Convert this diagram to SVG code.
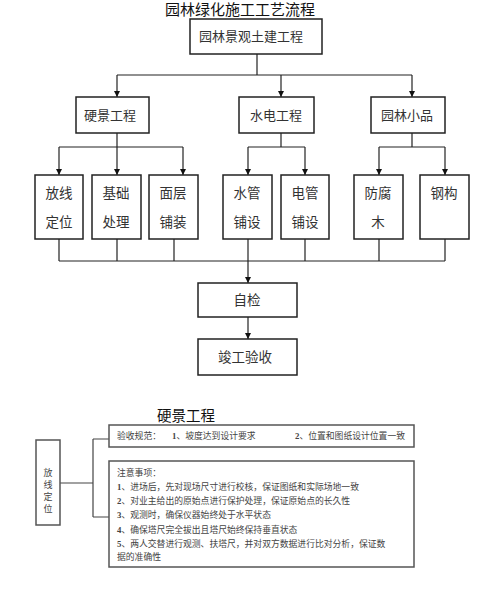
<svg xmlns="http://www.w3.org/2000/svg" width="500" height="600" viewBox="0 0 500 600">
<style>
text{font-family:"Liberation Serif","Noto Sans CJK SC",serif;}
.box{fill:#fff;stroke:#222;stroke-width:1.5;}
.sbox{fill:#fff;stroke:#555;stroke-width:1.5;}
.t{font-size:13.5px;fill:#333;text-anchor:middle;}
.title{font-size:15px;fill:#111;text-anchor:middle;}
.s{font-size:8.8px;fill:#444;}
.v{font-size:9px;fill:#444;text-anchor:middle;}
.ln{fill:none;stroke:#222;stroke-width:1.2;}
.sln{fill:none;stroke:#444;stroke-width:1.2;}
.a{marker-end:url(#arr);}
</style>
<defs>
<marker id="arr" viewBox="0 0 10 10" refX="10" refY="5" markerWidth="6" markerHeight="6" markerUnits="userSpaceOnUse" orient="auto">
<path d="M0,0 L10,5 L0,10 z" fill="#111"/>
</marker>
</defs>
<rect width="500" height="600" fill="#fff"/>
<text class="title" x="240" y="15">园林绿化施工工艺流程</text>

<g id="connectors">
<path class="ln" d="M257,54 V75 M117,75 H412"/>
<path class="ln a" d="M117,75 V97"/>
<path class="ln a" d="M281,75 V97"/>
<path class="ln a" d="M412,75 V97"/>
<path class="ln" d="M117,133 V147 M59,147 H183"/>
<path class="ln a" d="M59,147 V175"/>
<path class="ln a" d="M117,147 V175"/>
<path class="ln a" d="M183,147 V175"/>
<path class="ln" d="M281,133 V147 M248,147 H305"/>
<path class="ln a" d="M248,147 V175"/>
<path class="ln a" d="M305,147 V175"/>
<path class="ln" d="M412,133 V147 M379,147 H445"/>
<path class="ln a" d="M379,147 V175"/>
<path class="ln a" d="M445,147 V175"/>
<path class="ln" d="M59,239 V261 M117,239 V261 M174,239 V261 M305,239 V261 M379,239 V261 M445,239 V261 M59,261 H445"/>
<path class="ln a" d="M248,239 V283"/>
<path class="ln a" d="M248,317 V339"/>
<path class="sln" d="M60,483 H93 M93,439 V517 M93,439 H109 M93,517 H109"/>
</g>

<g id="n-root"><rect class="box" x="190" y="19" width="132" height="35"/><text class="t" x="251" y="41" style="font-size:13px">园林景观土建工程</text></g>
<g id="n-yingjing"><rect class="box" x="76" y="97" width="73" height="36"/><text class="t" x="110" y="120" style="font-size:13px">硬景工程</text></g>
<g id="n-shuidian"><rect class="box" x="239" y="97" width="75" height="36"/><text class="t" x="276" y="120" style="font-size:13px">水电工程</text></g>
<g id="n-xiaopin"><rect class="box" x="371" y="97" width="74" height="36"/><text class="t" x="407" y="120" style="font-size:13px">园林小品</text></g>

<g id="n-fangxian"><rect class="box" x="35" y="175" width="48" height="64"/><text class="t" x="59" y="198">放线</text><text class="t" x="59" y="227">定位</text></g>
<g id="n-jichu"><rect class="box" x="92" y="175" width="49" height="64"/><text class="t" x="116" y="198">基础</text><text class="t" x="116" y="227">处理</text></g>
<g id="n-mianceng"><rect class="box" x="149" y="175" width="49" height="64"/><text class="t" x="173" y="198">面层</text><text class="t" x="173" y="227">铺装</text></g>
<g id="n-shuiguan"><rect class="box" x="223" y="175" width="49" height="64"/><text class="t" x="247" y="198">水管</text><text class="t" x="247" y="227">铺设</text></g>
<g id="n-dianguan"><rect class="box" x="281" y="175" width="48" height="64"/><text class="t" x="305" y="198">电管</text><text class="t" x="305" y="227">铺设</text></g>
<g id="n-fangfu"><rect class="box" x="354" y="175" width="49" height="64"/><text class="t" x="378" y="198">防腐</text><text class="t" x="378" y="227">木</text></g>
<g id="n-ganggou"><rect class="box" x="420" y="175" width="49" height="64"/><text class="t" x="444" y="198">钢构</text></g>

<g id="n-zijian"><rect class="box" x="198" y="283" width="99" height="34"/><text class="t" x="247" y="305">自检</text></g>
<g id="n-jungong"><rect class="box" x="198" y="339" width="99" height="36"/><text class="t" x="245" y="362">竣工验收</text></g>

<text class="title" x="186" y="421" style="font-size:14.5px">硬景工程</text>

<g id="n-fxdw"><rect class="sbox" x="36" y="440" width="24" height="85"/>
<text class="v" x="48" y="476">放</text><text class="v" x="48" y="488">线</text><text class="v" x="48" y="500">定</text><text class="v" x="48" y="512">位</text></g>

<g id="n-yanshou"><rect class="sbox" x="109" y="425" width="305" height="22"/>
<text class="s" x="117" y="439">验收规范：</text>
<text class="s" x="172" y="439"><tspan font-weight="bold">1</tspan>、坡度达到设计要求</text>
<text class="s" x="295" y="439"><tspan font-weight="bold">2</tspan>、位置和图纸设计位置一致</text></g>

<g id="n-zhuyi"><rect class="sbox" x="109" y="461" width="305" height="106"/>
<text class="s" x="117" y="476">注意事项：</text>
<text class="s" x="117" y="490"><tspan font-weight="bold">1</tspan>、进场后，先对现场尺寸进行校核，保证图纸和实际场地一致</text>
<text class="s" x="117" y="504"><tspan font-weight="bold">2</tspan>、对业主给出的原始点进行保护处理，保证原始点的长久性</text>
<text class="s" x="117" y="518"><tspan font-weight="bold">3</tspan>、观测时，确保仪器始终处于水平状态</text>
<text class="s" x="117" y="533"><tspan font-weight="bold">4</tspan>、确保塔尺完全拔出且塔尺始终保持垂直状态</text>
<text class="s" x="117" y="547"><tspan font-weight="bold">5</tspan>、两人交替进行观测、扶塔尺，并对双方数据进行比对分析，保证数</text>
<text class="s" x="117" y="560">据的准确性</text></g>
</svg>
